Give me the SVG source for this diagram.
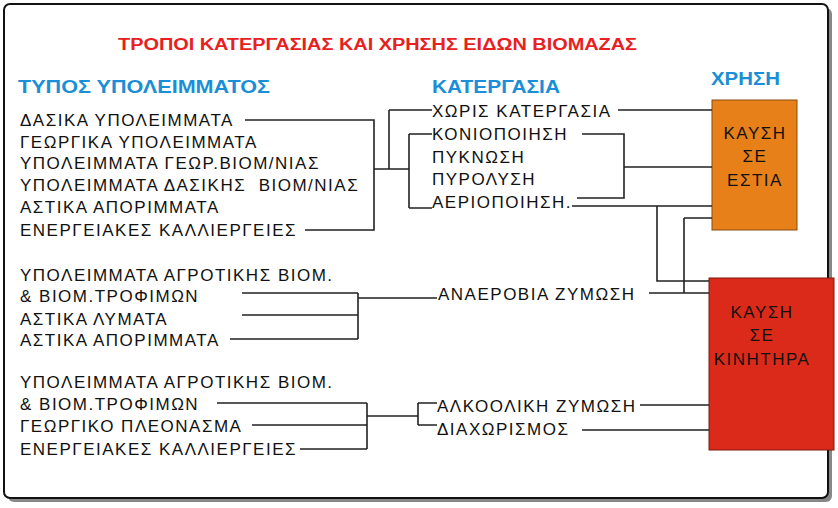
<svg xmlns="http://www.w3.org/2000/svg" width="838" height="508" viewBox="0 0 838 508">
<style>
.t{font-family:"Liberation Sans",Arial,sans-serif;font-size:17px;letter-spacing:1.5px;fill:#111}
.h{font-family:"Liberation Sans",Arial,sans-serif;font-size:18px;font-weight:bold;fill:#1a8fd8}
.c{fill:none;stroke:#222;stroke-width:1.6}
</style>
<rect width="838" height="508" fill="#fff"/>
<rect x="8" y="8" width="824" height="494" rx="6" fill="#888"/>
<rect x="4" y="4" width="824" height="494" rx="6" fill="#fff" stroke="#111" stroke-width="2"/>
<text x="118" y="50" font-family="Liberation Sans,Arial,sans-serif" font-size="16" font-weight="bold" fill="#e82020" textLength="519" lengthAdjust="spacingAndGlyphs">ΤΡΟΠΟΙ ΚΑΤΕΡΓΑΣΙΑΣ ΚΑΙ ΧΡΗΣΗΣ ΕΙΔΩΝ ΒΙΟΜΑΖΑΣ</text>
<text class="h" x="18" y="93" textLength="252" lengthAdjust="spacingAndGlyphs">ΤΥΠΟΣ ΥΠΟΛΕΙΜΜΑΤΟΣ</text>
<text class="h" x="432" y="93" textLength="128" lengthAdjust="spacingAndGlyphs">ΚΑΤΕΡΓΑΣΙΑ</text>
<text class="h" x="711" y="85" textLength="69" lengthAdjust="spacingAndGlyphs">ΧΡΗΣΗ</text>
<g id="sources1">
<text class="t" x="20" y="126">ΔΑΣΙΚΑ ΥΠΟΛΕΙΜΜΑΤΑ</text>
<text class="t" x="20" y="148">ΓΕΩΡΓΙΚΑ ΥΠΟΛΕΙΜΜΑΤΑ</text>
<text class="t" x="20" y="169">ΥΠΟΛΕΙΜΜΑΤΑ ΓΕΩΡ.ΒΙΟΜ/ΝΙΑΣ</text>
<text class="t" x="20" y="191" xml:space="preserve">ΥΠΟΛΕΙΜΜΑΤΑ ΔΑΣΙΚΗΣ  ΒΙΟΜ/ΝΙΑΣ</text>
<text class="t" x="20" y="213">ΑΣΤΙΚΑ ΑΠΟΡΙΜΜΑΤΑ</text>
<text class="t" x="20" y="236">ΕΝΕΡΓΕΙΑΚΕΣ ΚΑΛΛΙΕΡΓΕΙΕΣ</text>
</g>
<g id="sources2">
<text class="t" x="20" y="281">ΥΠΟΛΕΙΜΜΑΤΑ ΑΓΡΟΤΙΚΗΣ ΒΙΟΜ.</text>
<text class="t" x="20" y="302">&amp; ΒΙΟΜ.ΤΡΟΦΙΜΩΝ</text>
<text class="t" x="20" y="325">ΑΣΤΙΚΑ ΛΥΜΑΤΑ</text>
<text class="t" x="20" y="346">ΑΣΤΙΚΑ ΑΠΟΡΙΜΜΑΤΑ</text>
</g>
<g id="sources3">
<text class="t" x="20" y="388">ΥΠΟΛΕΙΜΜΑΤΑ ΑΓΡΟΤΙΚΗΣ ΒΙΟΜ.</text>
<text class="t" x="20" y="410">&amp; ΒΙΟΜ.ΤΡΟΦΙΜΩΝ</text>
<text class="t" x="20" y="432">ΓΕΩΡΓΙΚΟ ΠΛΕΟΝΑΣΜΑ</text>
<text class="t" x="20" y="455">ΕΝΕΡΓΕΙΑΚΕΣ ΚΑΛΛΙΕΡΓΕΙΕΣ</text>
</g>
<g id="processes">
<text class="t" x="432" y="117">ΧΩΡΙΣ ΚΑΤΕΡΓΑΣΙΑ</text>
<text class="t" x="432" y="140">ΚΟΝΙΟΠΟΙΗΣΗ</text>
<text class="t" x="432" y="163">ΠΥΚΝΩΣΗ</text>
<text class="t" x="432" y="185">ΠΥΡΟΛΥΣΗ</text>
<text class="t" x="432" y="208">ΑΕΡΙΟΠΟΙΗΣΗ.</text>
<text class="t" x="438" y="300">ΑΝΑΕΡΟΒΙΑ ΖΥΜΩΣΗ</text>
<text class="t" x="437" y="412">ΑΛΚΟΟΛΙΚΗ ΖΥΜΩΣΗ</text>
<text class="t" x="437" y="435">ΔΙΑΧΩΡΙΣΜΟΣ</text>
</g>
<g id="hearth">
<rect x="712" y="100" width="85" height="130" fill="#e8801a" stroke="#8a4a10" stroke-width="1"/>
<text class="t" x="755" y="139" text-anchor="middle">ΚΑΥΣΗ</text>
<text class="t" x="755" y="162" text-anchor="middle">ΣΕ</text>
<text class="t" x="755" y="186" text-anchor="middle">ΕΣΤΙΑ</text>
</g>
<g id="engine">
<rect x="709" y="278" width="125" height="172" fill="#dc2a1a" stroke="#7a1a10" stroke-width="1"/>
<text class="t" x="762" y="318" text-anchor="middle">ΚΑΥΣΗ</text>
<text class="t" x="762" y="341" text-anchor="middle">ΣΕ</text>
<text class="t" x="762" y="365" text-anchor="middle">ΚΙΝΗΤΗΡΑ</text>
</g>
<g id="connectors" class="c">
<path d="M245 120H374V230H305M374 169H409M389 110V169M389 110H432M409 134V208M409 134H432M409 208H432"/>
<path d="M618 110H712M582 134H624V198H577M624 167H712M572 206H712M657 206V281H709M684 218H712M684 218V293M649 293H709"/>
<path d="M242 293H358M242 315H358M230 339H358M358 293V339M358 298H437"/>
<path d="M217 403H367M252 425H367M300 449H367M367 403V449M367 416H418M418 403V425M418 403H437M418 425H437M640 405H709M582 430H709"/>
</g>
</svg>
